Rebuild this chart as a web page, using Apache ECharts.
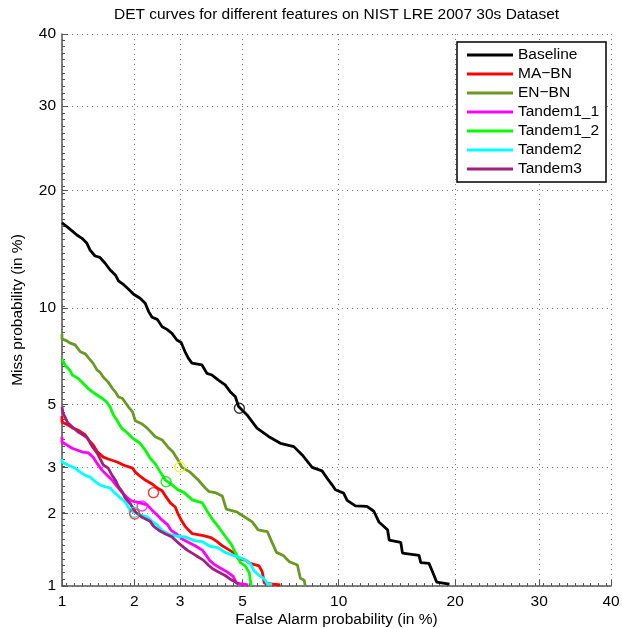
<!DOCTYPE html>
<html><head><meta charset="utf-8">
<script src="https://cdn.jsdelivr.net/npm/echarts@6/dist/echarts.min.js"></script>
<style>html,body{margin:0;padding:0;background:#fff}#c{width:622px;height:628px}</style>
</head><body><div id="c"></div>
<script>
// ---------- data (percent) ----------
const tickLabels = [1, 2, 3, 5, 10, 20, 30, 40];
const seriesNames = ['Baseline', 'MA\u2212BN', 'EN\u2212BN', 'Tandem1_1', 'Tandem1_2', 'Tandem2', 'Tandem3'];

const baselineFA = [1.0,1.07,1.16,1.22,1.28,1.32,1.385,1.45,1.525,1.6,1.68,1.73,1.82,1.90,1.99,2.11,2.21,2.28,2.35,2.46,2.57,2.68,2.80,2.92,3.03,3.13,3.22,3.32,3.61,3.76,3.92,4.13,4.36,4.54,4.73,4.85,5.18,5.59,6.1,6.66,7.34,7.79,8.35,8.94,9.26,9.57,9.78,10.33,10.57,11.15,12.0,12.53,12.93,13.63,13.77,14.75,14.9,16.4,16.56,17.34,17.66,18.1,19.4];
const baselineMiss = [16.8,16.3,15.67,15.37,14.93,14.35,13.85,13.74,13.26,12.72,12.34,11.89,11.59,11.27,10.92,10.64,10.3,9.75,9.39,9.26,8.81,8.65,8.42,8.04,7.9,7.41,7.07,6.82,6.73,6.33,6.25,6.02,5.81,5.52,5.31,4.92,4.61,4.15,3.88,3.67,3.57,3.33,3.0,2.91,2.73,2.58,2.47,2.40,2.25,2.14,2.13,2.04,1.85,1.72,1.56,1.53,1.38,1.35,1.26,1.25,1.16,1.04,1.02];

const maFA = [1.0,1.0,1.06,1.11,1.17,1.26,1.30,1.36,1.42,1.5,1.57,1.71,1.81,1.97,2.02,2.11,2.21,2.35,2.46,2.57,2.66,2.76,2.88,2.95,3.05,3.13,3.22,3.33,3.65,3.89,4.09,4.26,4.47,4.69,4.84,5.11,5.31,5.68,5.82,5.91,6.66];
const maMiss = [4.57,4.36,4.26,4.16,4.09,3.93,3.77,3.62,3.41,3.27,3.22,3.14,3.06,2.98,2.88,2.78,2.69,2.6,2.51,2.45,2.32,2.2,2.12,1.99,1.86,1.78,1.72,1.66,1.63,1.6,1.54,1.48,1.43,1.38,1.31,1.29,1.25,1.22,1.15,1.03,1.01];

const enFA = [1.0,1.0,1.05,1.08,1.14,1.2,1.26,1.30,1.36,1.41,1.45,1.5,1.57,1.63,1.68,1.73,1.79,1.85,1.90,1.97,2.02,2.15,2.25,2.42,2.57,2.70,2.82,2.95,3.05,3.27,3.5,3.71,3.83,4.02,4.26,4.4,4.77,5.07,5.39,5.64,6.05,6.23,6.47,6.8,7.11,7.53,7.69,7.9,7.96];
const enMiss = [8.38,8.1,7.99,7.88,7.77,7.4,7.29,7.08,6.81,6.49,6.39,6.15,5.93,5.67,5.51,5.3,5.25,5.06,4.9,4.72,4.4,4.29,4.15,3.87,3.77,3.56,3.42,3.19,3.0,2.88,2.69,2.51,2.43,2.41,2.34,2.08,2.03,1.94,1.85,1.72,1.69,1.55,1.39,1.35,1.27,1.23,1.08,1.06,1.0];

const t11FA = [1.0,1.0,1.05,1.10,1.16,1.23,1.30,1.36,1.41,1.48,1.55,1.63,1.71,1.79,1.88,1.95,2.11,2.25,2.35,2.46,2.57,2.70,2.78,2.92,3.08,3.22,3.41,3.62,3.74,3.86,4.02,4.22,4.43,4.65,4.77,5.23];
const t11Miss = [3.87,3.71,3.62,3.53,3.47,3.41,3.39,3.27,3.11,2.93,2.81,2.69,2.54,2.41,2.3,2.24,2.2,2.16,2.06,1.97,1.88,1.8,1.71,1.65,1.57,1.53,1.48,1.42,1.35,1.28,1.23,1.19,1.15,1.1,1.03,1.01];

const t12FA = [1.0,1.03,1.08,1.11,1.17,1.23,1.29,1.35,1.41,1.48,1.55,1.6,1.65,1.71,1.78,1.88,1.97,2.02,2.11,2.21,2.31,2.42,2.53,2.64,2.78,2.95,3.11,3.33,3.62,3.8,3.93,4.16,4.36,4.58,4.77,4.92,5.11,5.27,5.35];
const t12Miss = [7.03,6.73,6.49,6.25,6.11,5.89,5.67,5.51,5.38,5.25,5.09,4.9,4.61,4.4,4.15,3.99,3.83,3.77,3.67,3.47,3.24,3.09,2.88,2.69,2.6,2.47,2.41,2.26,2.2,2.01,1.9,1.75,1.62,1.5,1.36,1.26,1.22,1.14,1.0];

const t2FA = [1.0,1.0,1.06,1.14,1.2,1.26,1.32,1.39,1.45,1.52,1.6,1.65,1.71,1.76,1.84,1.93,2.02,2.13,2.25,2.35,2.46,2.57,2.73,2.92,3.13,3.41,3.62,3.83,4.13,4.36,4.65,4.92,5.19,5.35,5.48,5.64,5.82,5.95,6.05,6.27];
const t2Miss = [3.22,3.14,3.06,2.98,2.88,2.8,2.76,2.65,2.58,2.54,2.51,2.43,2.36,2.3,2.22,2.06,2.01,1.97,1.94,1.86,1.8,1.71,1.65,1.62,1.61,1.55,1.54,1.48,1.45,1.39,1.35,1.32,1.28,1.23,1.16,1.12,1.09,1.06,1.02,1.02];

const t3FA = [1.0,1.01,1.03,1.06,1.11,1.17,1.23,1.29,1.32,1.36,1.41,1.45,1.5,1.57,1.63,1.68,1.73,1.79,1.84,1.93,2.02,2.15,2.31,2.38,2.5,2.66,2.80,2.92,3.05,3.19,3.36,3.5,3.65,3.8,3.93,4.13,4.36,4.54,4.73,4.85];
const t3Miss = [4.9,4.68,4.54,4.33,4.19,4.03,3.93,3.83,3.68,3.53,3.39,3.24,3.06,2.98,2.8,2.69,2.54,2.43,2.3,2.18,2.03,1.93,1.86,1.78,1.71,1.65,1.61,1.54,1.48,1.42,1.37,1.33,1.29,1.23,1.19,1.15,1.11,1.07,1.04,1.02];

// min-cost operating points (one per system, same order as seriesNames)
const opFA   = [4.88, 2.38, 3.0, 2.15, 2.66, 2.0, 2.01];
const opMiss = [4.86, 2.41, 3.01, 2.14, 2.65, 2.02, 1.99];

// ---------- styles ----------
const lineColors = ['#000000', '#ff0000', '#6b9a22', '#ff00ff', '#00ff00', '#00ffff', '#a11f80'];
const circleColors = ['#000000', '#ff0000', '#f2f200', '#ff00ff', '#00d800', '#00dede', '#ff2020'];
const FONT = 'Liberation Sans, Arial, Helvetica, sans-serif';
const FS = 15.5;

// ---------- probit (normal deviate) scale ----------
function probit(p) {
  const a=[-3.969683028665376e+01,2.209460984245205e+02,-2.759285104469687e+02,1.383577518672690e+02,-3.066479806614716e+01,2.506628277459239e+00];
  const b=[-5.447609879822406e+01,1.615858368580409e+02,-1.556989798598866e+02,6.680131188771972e+01,-1.328068155288572e+01];
  const c=[-7.784894002430293e-03,-3.223964580411365e-01,-2.400758277161838e+00,-2.549732539343734e+00,4.374664141464968e+00,2.938163982698783e+00];
  const d=[7.784695709041462e-03,3.224671290700398e-01,2.445134137142996e+00,3.754408661907416e+00];
  const plow = 0.02425, phigh = 1 - plow;
  let q, r;
  if (p < plow) { q = Math.sqrt(-2*Math.log(p)); return (((((c[0]*q+c[1])*q+c[2])*q+c[3])*q+c[4])*q+c[5])/((((d[0]*q+d[1])*q+d[2])*q+d[3])*q+1); }
  if (p <= phigh) { q = p - 0.5; r = q*q; return (((((a[0]*r+a[1])*r+a[2])*r+a[3])*r+a[4])*r+a[5])*q/(((((b[0]*r+b[1])*r+b[2])*r+b[3])*r+b[4])*r+1); }
  q = Math.sqrt(-2*Math.log(1-p)); return -(((((c[0]*q+c[1])*q+c[2])*q+c[3])*q+c[4])*q+c[5])/((((d[0]*q+d[1])*q+d[2])*q+d[3])*q+1);
}
const P = v => probit(v / 100);
const majorZ = tickLabels.map(P);
const zMin = majorZ[0], zMax = majorZ[majorZ.length - 1];
function minorTicks(step) {
  const out = [];
  for (let k = Math.ceil(zMin / step); k * step <= zMax; k++) out.push(k * step);
  return out;
}
const minorX = minorTicks(0.03), minorY = minorTicks(0.025);
function labelFor(v) {
  let best = 0;
  for (let i = 1; i < majorZ.length; i++) if (Math.abs(majorZ[i] - v) < Math.abs(majorZ[best] - v)) best = i;
  return String(tickLabels[best]);
}

const curves = [[baselineFA, baselineMiss],[maFA, maMiss],[enFA, enMiss],[t11FA, t11Miss],[t12FA, t12Miss],[t2FA, t2Miss],[t3FA, t3Miss]];

const series = curves.map((cv, i) => ({
  name: seriesNames[i], type: 'line', showSymbol: false, symbol: 'none',
  color: lineColors[i], lineStyle: { color: lineColors[i], width: 2.8 },
  data: cv[0].map((x, j) => [P(x), P(cv[1][j])]),
  animation: false, z: 3
}));
opFA.forEach((x, i) => {
  series.push({
    type: 'scatter', symbol: 'circle', symbolSize: 10, z: 4, animation: false,
    itemStyle: { color: 'rgba(0,0,0,0)', borderColor: circleColors[i], borderWidth: 1.4 },
    data: [[P(x), P(opMiss[i])]]
  });
});

const axisCol = '#555';
const chart = echarts.init(document.getElementById('c'), null, { renderer: 'canvas' });
chart.setOption({
  animation: false,
  backgroundColor: '#fff',
  title: {
    text: 'DET curves for different features on NIST LRE 2007 30s Dataset',
    left: 336.5, top: 6.5, padding: 0, textAlign: 'center',
    textStyle: { fontFamily: FONT, fontSize: FS, fontWeight: 'normal', color: '#000' }
  },
  grid: { left: 62, right: 11, top: 34, bottom: 42, outerBoundsMode: 'none', containLabel: false },
  legend: {
    data: seriesNames, orient: 'vertical', left: 457, top: 42,
    padding: [5, 7, 5, 10], itemGap: 3, itemWidth: 46, itemHeight: 3, icon: 'rect',
    borderColor: '#000', borderWidth: 1.5, backgroundColor: '#fff',
    textStyle: { fontFamily: FONT, fontSize: FS, color: '#000', lineHeight: 15.5 },
    selectedMode: false
  },
  xAxis: [{
    type: 'value', min: zMin, max: zMax, position: 'bottom',
    name: 'False Alarm probability (in %)', nameLocation: 'middle', nameGap: 26, nameMoveOverlap: false,
    nameTextStyle: { fontFamily: FONT, fontSize: FS, color: '#000' },
    axisLine: { show: true, onZero: false, lineStyle: { color: axisCol, width: 1.5 } },
    axisTick: { show: true, inside: true, length: 6, customValues: majorZ, lineStyle: { color: axisCol } },
    axisLabel: { customValues: majorZ, formatter: labelFor, fontFamily: FONT, fontSize: FS, color: '#000', margin: 8 },
    splitLine: { show: true, lineStyle: { type: [1, 4], color: '#777', width: 1 } }
  }, {
    type: 'value', min: zMin, max: zMax, position: 'bottom',
    axisLine: { show: false },
    axisTick: { show: true, inside: true, length: 3, customValues: minorX, lineStyle: { color: axisCol } },
    axisLabel: { show: false }, splitLine: { show: false }
  }],
  yAxis: [{
    type: 'value', min: zMin, max: zMax, position: 'left',
    name: 'Miss probability (in %)', nameLocation: 'middle', nameGap: 36,
    nameTextStyle: { fontFamily: FONT, fontSize: FS, color: '#000' },
    axisLine: { show: true, onZero: false, lineStyle: { color: axisCol, width: 1.5 } },
    axisTick: { show: true, inside: true, length: 6, customValues: majorZ, lineStyle: { color: axisCol } },
    axisLabel: { customValues: majorZ, formatter: labelFor, fontFamily: FONT, fontSize: FS, color: '#000', margin: 6 },
    splitLine: { show: true, lineStyle: { type: [1, 4], color: '#777', width: 1 } }
  }, {
    type: 'value', min: zMin, max: zMax, position: 'left',
    axisLine: { show: false },
    axisTick: { show: true, inside: true, length: 3, customValues: minorY, lineStyle: { color: axisCol } },
    axisLabel: { show: false }, splitLine: { show: false }
  }],
  series: series
});
</script></body></html>
